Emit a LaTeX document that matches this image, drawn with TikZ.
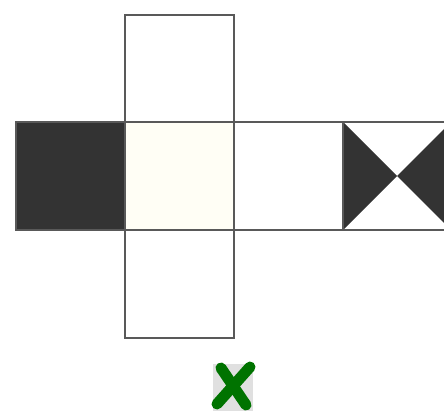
\documentclass[tikz,border=0pt]{standalone}
\begin{document}
\begin{tikzpicture}[x=1pt,y=-1pt,
  face/.style={draw=black!65, line width=2.4pt},
  xstroke/.style={draw=green!45!black, line width=11pt, line cap=round}]
\useasboundingbox (0,0) rectangle (444,411);
\clip (0,0) rectangle (444,411);
% faces
\fill[black!80] (16,122) rectangle (125,230);
\fill[yellow!4] (125,122) rectangle (234,230);
\fill[black!80] (343,122) -- (397,176) -- (343,230) -- cycle;
\fill[black!80] (451,122) -- (397,176) -- (451,230) -- cycle;
\draw[face] (125,15) rectangle (234,122);
\draw[face] (16,122) rectangle (125,230);
\draw[face] (125,122) rectangle (234,230);
\draw[face] (234,122) rectangle (343,230);
\draw[face] (343,122) rectangle (451,230);
\draw[face] (125,230) rectangle (234,338);
% mark
\fill[black!12] (213,364) rectangle (253,411);
\draw[xstroke] (250,367) -- (217,404);
\draw[xstroke] (221,368) -- (246,405);
\end{tikzpicture}
\end{document}
